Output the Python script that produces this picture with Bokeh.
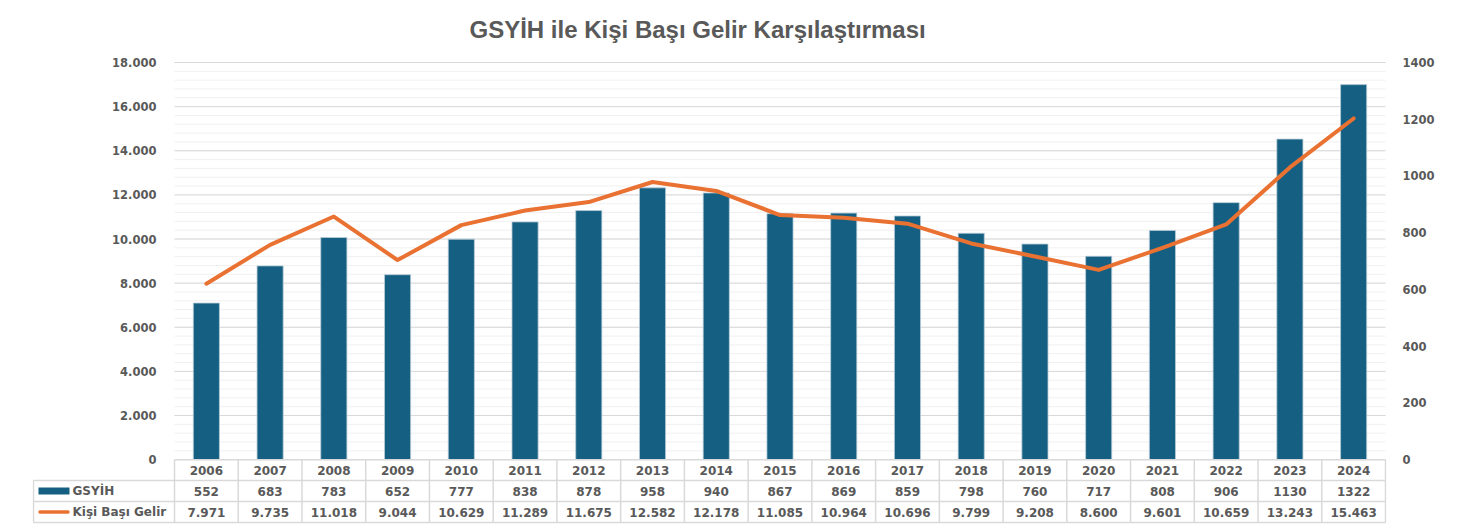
from bokeh.plotting import figure
from bokeh.models import Range1d, LinearAxis, FixedTicker
from bokeh.core.properties import value
from bokeh.embed import file_html
from bokeh.resources import INLINE

# ---------------- data ----------------
title_text = "GSYİH ile Kişi Başı Gelir Karşılaştırması"
series_names = ["GSYİH", "Kişi Başı Gelir"]
years = ["2006", "2007", "2008", "2009", "2010", "2011", "2012", "2013", "2014", "2015",
         "2016", "2017", "2018", "2019", "2020", "2021", "2022", "2023", "2024"]
gsyih = [552, 683, 783, 652, 777, 838, 878, 958, 940, 867,
         869, 859, 798, 760, 717, 808, 906, 1130, 1322]
kisi_basi_gelir = [7971, 9735, 11018, 9044, 10629, 11289, 11675, 12582, 12178, 11085,
                   10964, 10696, 9799, 9208, 8600, 9601, 10659, 13243, 15463]
left_ticks = list(range(0, 18001, 2000))
left_minor = list(range(0, 18001, 400))
right_ticks = list(range(0, 1401, 200))

# ---------------- styles / layout ----------------
BAR = "#156082"
BAR_EDGE = "#b9cdd8"
LINE = "#E97132"
TXT = "#595959"
GRID = "#d9d9d9"
MINOR = "#f0f0f0"
TBL = "#d9d9d9"
FONT = "DejaVu Sans"
TFONT = "Liberation Sans"

W, H = 1443, 528
PLOT_L, PLOT_R = 174, 1385      # plot area (pixels)
PLOT_T, ZERO_Y = 61, 459        # top tick / zero line (pixels)
FRAME_T = 54                    # frame top (room for the top tick label)
ROW_PX = 21                     # table row height
LEG_L = 33                      # legend column left edge
n = len(years)
col_px = (PLOT_R - PLOT_L) / n
LMAX, RMAX = left_ticks[-1], right_ticks[-1]
ppu = (ZERO_Y - PLOT_T) / LMAX  # pixels per left-axis unit
ROW = ROW_PX / ppu

xleg = -0.5 - (PLOT_L - LEG_L) / col_px
y_top = LMAX + (PLOT_T - FRAME_T) / ppu
y_bot = -(H - ZERO_Y) / ppu

p = figure(width=W, height=H, output_backend="svg", toolbar_location=None,
           x_range=Range1d(xleg - 1 / col_px, n - 0.5 + 1 / col_px),
           y_range=Range1d(y_bot, y_top), x_axis_location=None,
           min_border_left=LEG_L - 1, min_border_right=W - PLOT_R - 1,
           min_border_top=FRAME_T, min_border_bottom=0)
p.outline_line_color = None
p.extra_y_ranges = {"right": Range1d(y_bot * RMAX / LMAX, y_top * RMAX / LMAX)}

p.title.text = title_text
p.title.text_font = TFONT
p.title.text_font_size = "24px"
p.title.text_font_style = "bold"
p.title.text_color = TXT
p.title.align = "left"
p.title.offset = 437
p.title.standoff = 26

lax = p.yaxis[0]
lax.ticker = FixedTicker(ticks=left_ticks)
lax.fixed_location = -0.5
lax.major_label_overrides = {t: f"{t:,}".replace(",", ".") for t in left_ticks}
rax = LinearAxis(y_range_name="right", ticker=FixedTicker(ticks=right_ticks))
p.add_layout(rax, "right")
for ax, so in ((lax, 12), (rax, 10)):
    ax.axis_line_color = None
    ax.major_tick_line_color = None
    ax.minor_tick_line_color = None
    ax.major_label_standoff = so
    ax.major_label_text_font = FONT
    ax.major_label_text_font_size = "11.5px"
    ax.major_label_text_font_style = "bold"
    ax.major_label_text_color = TXT
p.grid.visible = False

# gridlines across the plot area only
p.multi_line(xs=[[-0.5, n - 0.5] for _ in left_minor], ys=[[t, t] for t in left_minor],
             line_color=MINOR, line_width=1)
p.multi_line(xs=[[-0.5, n - 0.5] for _ in left_ticks[1:]], ys=[[t, t] for t in left_ticks[1:]],
             line_color=GRID, line_width=1)

xs = list(range(n))
p.vbar(x=xs, top=gsyih, width=0.41, y_range_name="right", fill_color=BAR,
       line_color=BAR_EDGE, line_width=0.8)
p.line(x=xs, y=kisi_basi_gelir, line_color=LINE, line_width=4,
       line_join="round", line_cap="round")

# ---------------- data table ----------------
p.multi_line(xs=[[-0.5, n - 0.5]] + [[xleg, n - 0.5] for r in (1, 2, 3)],
             ys=[[0, 0]] + [[-r * ROW, -r * ROW] for r in (1, 2, 3)],
             line_color=TBL, line_width=1.5)
vx = [-0.5 + k for k in range(n + 1)]
p.multi_line(xs=[[x, x] for x in vx] + [[xleg, xleg]],
             ys=[[0, -3 * ROW] for _ in vx] + [[-ROW, -3 * ROW]],
             line_color=TBL, line_width=1.5)

row_texts = [years,
             [str(v) for v in gsyih],
             [f"{v:,}".replace(",", ".") for v in kisi_basi_gelir]]
for r, texts in enumerate(row_texts):
    p.text(x=xs, y=[-(r + 0.5) * ROW] * n, text=texts, text_align="center",
           text_baseline="middle", text_font=value(FONT), text_font_size="12px",
           text_font_style="bold", text_color=TXT)

sw_l = xleg + 5 / col_px
sw_r = xleg + 36 / col_px
p.quad(left=[sw_l], right=[sw_r], top=[-1.5 * ROW + 3.5 / ppu], bottom=[-1.5 * ROW - 3.5 / ppu],
       fill_color=BAR, line_color=None)
p.segment(x0=[sw_l + 1.5 / col_px], x1=[sw_r - 1.5 / col_px], y0=[-2.5 * ROW], y1=[-2.5 * ROW],
          line_color=LINE, line_width=3.5, line_cap="round")
p.text(x=[xleg + 39 / col_px] * 2, y=[-1.5 * ROW, -2.5 * ROW], text=series_names,
       text_align="left", text_baseline="middle", text_font=value(FONT),
       text_font_size="12px", text_font_style="bold", text_color=TXT)

open("out.html", "w").write(file_html(p, INLINE))
